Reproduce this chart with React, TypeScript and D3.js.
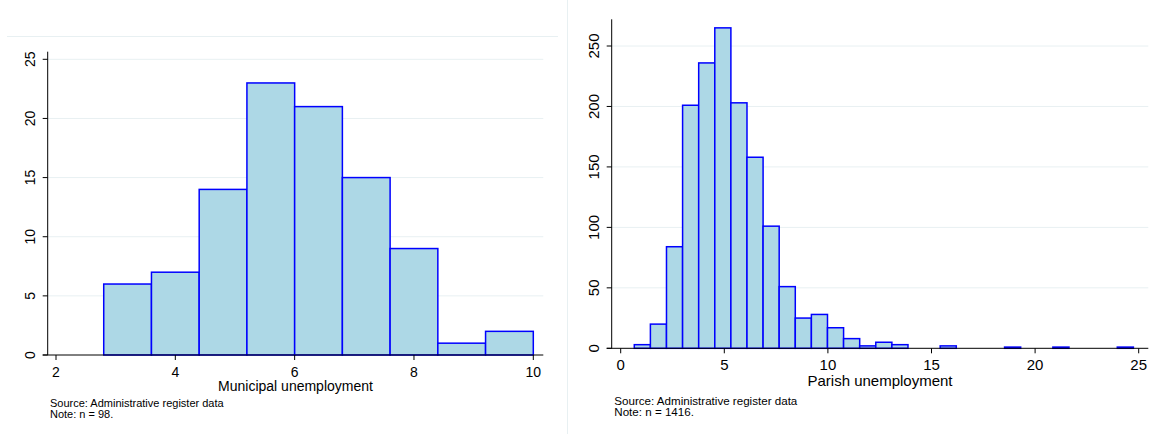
import * as d3 from "d3";

// Municipal histogram (n = 98): 9 bins of width 0.8 starting at 2.8
const muniBinStart = 2.8;
const muniBinWidth = 0.8;
const muniCounts = [6, 7, 14, 23, 21, 15, 9, 1, 2];
const muniXTicks = [2, 4, 6, 8, 10];
const muniYTicks = [0, 5, 10, 15, 20, 25];

// Parish histogram (n = 1416): 31 bins
const parishBinStart = 0.656;
const parishBinWidth = 0.777;
const parishCounts = [
  3, 20, 84, 201, 236, 265, 203, 158, 101, 51, 25, 28, 17, 8, 2, 5, 3, 0, 0, 2,
  0, 0, 0, 1, 0, 0, 1, 0, 0, 0, 1,
];
const parishXTicks = [0, 5, 10, 15, 20, 25];
const parishYTicks = [0, 50, 100, 150, 200, 250];

const FONT = "'Liberation Sans', Arial, Helvetica, sans-serif";
const GRID = "#e8f0f2";
const BAR_FILL = "#add8e6";
const BAR_LINE = "#0000ff";

type PanelProps = {
  counts: number[];
  binStart: number;
  binWidth: number;
  xTicks: number[];
  yTicks: number[];
  xDomain: [number, number];
  xRange: [number, number];
  yDomain: [number, number];
  yRange: [number, number];
  axisX: number; // y axis position
  axisTop: number;
  plotRight: number;
  title: string;
  note: string;
  fs: number;
  noteFs: number;
  noteX: number;
  noteY: number;
  noteGap: number;
  titleOffset: number;
};

const Panel = (p: PanelProps) => {
  const x = d3.scaleLinear().domain(p.xDomain).range(p.xRange);
  const y = d3.scaleLinear().domain(p.yDomain).range(p.yRange);
  const base = y(0);

  const bins = p.counts.map((c, i) => ({
    x0: p.binStart + i * p.binWidth,
    x1: p.binStart + (i + 1) * p.binWidth,
    c,
  }));

  return (
    <g fontFamily={FONT}>
      {/* gridlines */}
      {p.yTicks.slice(1).map((t) => (
        <line key={"g" + t} x1={p.axisX} x2={p.plotRight} y1={y(t)} y2={y(t)} stroke={GRID} strokeWidth={1} />
      ))}

      {/* bars */}
      {bins
        .filter((b) => b.c > 0)
        .map((b, i) => (
          <rect
            key={i}
            x={x(b.x0)}
            y={y(b.c)}
            width={x(b.x1) - x(b.x0)}
            height={base - y(b.c)}
            fill={BAR_FILL}
            stroke={BAR_LINE}
            strokeWidth={1.5}
          />
        ))}

      {/* y axis */}
      <line x1={p.axisX} x2={p.axisX} y1={p.axisTop} y2={base} stroke="#000" strokeWidth={1} />
      {p.yTicks.map((t) => (
        <g key={"y" + t}>
          <line x1={p.axisX - 5} x2={p.axisX} y1={y(t)} y2={y(t)} stroke="#000" strokeWidth={1} />
          <text
            transform={`translate(${p.axisX - 12.5},${y(t)}) rotate(-90)`}
            textAnchor="middle"
            fontSize={p.fs}
            fill="#000"
          >
            {t}
          </text>
        </g>
      ))}

      {/* x axis */}
      <line x1={p.axisX - 5} x2={p.plotRight} y1={base} y2={base} stroke="#000" strokeWidth={1} />
      {p.xTicks.map((t) => (
        <g key={"x" + t}>
          <line x1={x(t)} x2={x(t)} y1={base} y2={base + 5} stroke="#000" strokeWidth={1} />
          <text x={x(t)} y={base + 21.7} textAnchor="middle" fontSize={p.fs} fill="#000">
            {t}
          </text>
        </g>
      ))}
      <text
        x={(p.axisX + p.plotRight) / 2}
        y={base + p.titleOffset}
        textAnchor="middle"
        fontSize={p.fs}
        fill="#000"
      >
        {p.title}
      </text>

      {/* notes */}
      <text x={p.noteX} y={p.noteY} fontSize={p.noteFs} fill="#000">
        Source: Administrative register data
      </text>
      <text x={p.noteX} y={p.noteY + p.noteGap} fontSize={p.noteFs} fill="#000">
        {p.note}
      </text>
    </g>
  );
};

const App = () => {
  return (
    <svg
      width={1155}
      height={434}
      style={{ position: "absolute", left: 0, top: 0, background: "#fff" }}
    >
      <rect width={1155} height={434} fill="#fff" />
      {/* faint graph-region borders */}
      <line x1={7} x2={558} y1={36.5} y2={36.5} stroke={GRID} strokeWidth={1} />
      <line x1={567.5} x2={567.5} y1={0} y2={434} stroke={GRID} strokeWidth={1} />

      <Panel
        counts={muniCounts}
        binStart={muniBinStart}
        binWidth={muniBinWidth}
        xTicks={muniXTicks}
        yTicks={muniYTicks}
        xDomain={[2, 10]}
        xRange={[56, 533.3]}
        yDomain={[0, 25]}
        yRange={[355, 59.3]}
        axisX={47.7}
        axisTop={51.7}
        plotRight={543.3}
        title="Municipal unemployment"
        note="Note: n = 98."
        fs={14}
        noteFs={11}
        noteX={50}
        noteY={407.3}
        noteGap={11}
        titleOffset={36}
      />
      <Panel
        counts={parishCounts}
        binStart={parishBinStart}
        binWidth={parishBinWidth}
        xTicks={parishXTicks}
        yTicks={parishYTicks}
        xDomain={[0, 25]}
        xRange={[620.7, 1138.7]}
        yDomain={[0, 250]}
        yRange={[348.3, 46]}
        axisX={611.7}
        axisTop={19.3}
        plotRight={1148.3}
        title="Parish unemployment"
        note="Note: n = 1416."
        fs={15}
        noteFs={11.6}
        noteX={614.3}
        noteY={404.8}
        noteGap={11.6}
        titleOffset={37.4}
      />
    </svg>
  );
};

export default App;
